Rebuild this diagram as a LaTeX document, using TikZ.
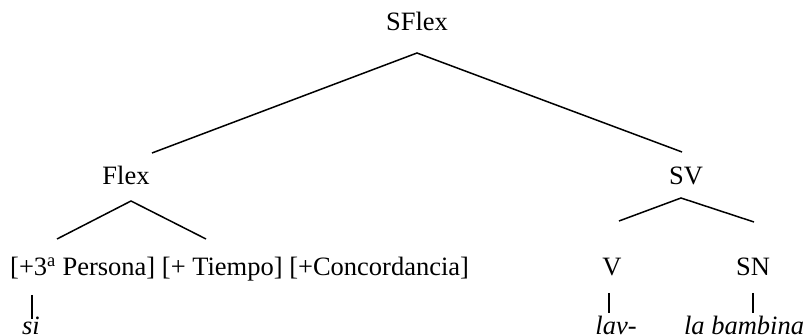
\documentclass[tikz,border=0pt]{standalone}
\usepackage{fontspec}
\setmainfont{Liberation Serif}
\begin{document}
\begin{tikzpicture}[x=1pt,y=-1pt,
  lbl/.style={inner sep=0pt,anchor=base,font=\fontsize{26.5}{30}\selectfont},
  word/.style={lbl,font=\fontsize{26.5}{30}\selectfont\itshape},
  branch/.style={line width=1.5pt}]
\useasboundingbox (0,0) rectangle (806,336);
\fill[white] (0,0) rectangle (806,336);

% labels
\node[lbl] (sflex) at (417,31) {SFlex};
\node[lbl] (flex) at (126,185) {Flex};
\node[lbl] (sv) at (686,185) {SV};
\node[lbl,anchor=base west] (feat) at (10,276) {[+3\textsuperscript{a} Persona] [+ Tiempo] [+Concordancia]};
\node[lbl] (v) at (612,276) {V};
\node[lbl] (sn) at (753,276) {SN};
\node[word] (si) at (31,335) {si};
\node[word] (lav) at (616,335) {lav-};
\node[word] (bambina) at (744,335) {la bambina};

% branch points
\coordinate (sflexTop) at (417,53);
\coordinate (sflexL) at (152,153);
\coordinate (sflexR) at (682,152);
\coordinate (flexTop) at (131,201);
\coordinate (flexL) at (57,239);
\coordinate (flexR) at (206,239);
\coordinate (svTop) at (681,198);
\coordinate (svL) at (619,221);
\coordinate (svR) at (754,222);
\coordinate (siA) at (32,295);
\coordinate (siB) at (32,319);
\coordinate (vA) at (609,293);
\coordinate (vB) at (609,313);
\coordinate (snA) at (753,293);
\coordinate (snB) at (753,313);

% branches
\draw[branch] (sflexL) -- (sflexTop) -- (sflexR);
\draw[branch] (flexL) -- (flexTop) -- (flexR);
\draw[branch] (svL) -- (svTop) -- (svR);
\draw[branch] (siA) -- (siB);
\draw[branch] (vA) -- (vB);
\draw[branch] (snA) -- (snB);
\end{tikzpicture}
\end{document}
